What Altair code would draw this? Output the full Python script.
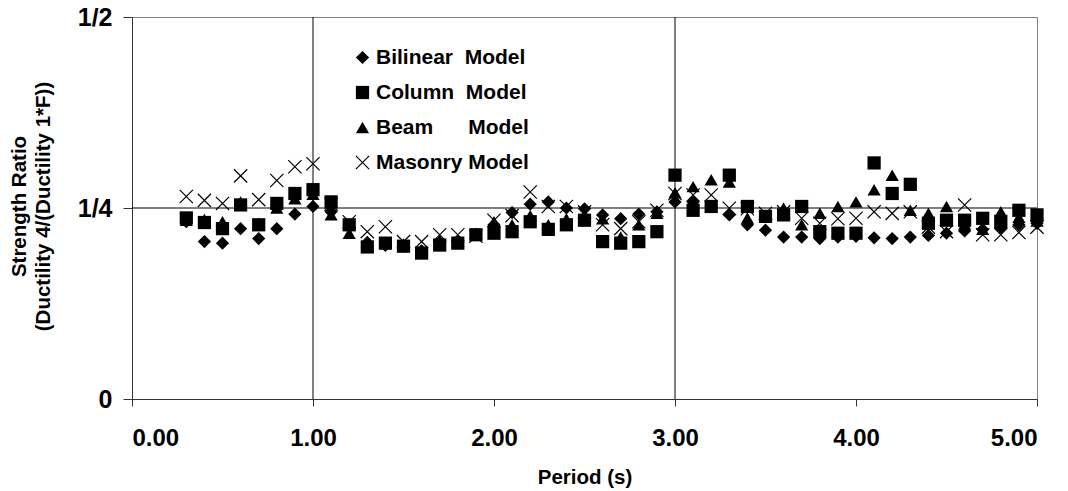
import altair as alt
import pandas as pd

# ---- data ----
periods = [0.3, 0.4, 0.5, 0.6, 0.7, 0.8, 0.9, 1.0, 1.1, 1.2, 1.3, 1.4, 1.5, 1.6, 1.7, 1.8,
           1.9, 2.0, 2.1, 2.2, 2.3, 2.4, 2.5, 2.6, 2.7, 2.8, 2.9, 3.0, 3.1, 3.2, 3.3, 3.4,
           3.5, 3.6, 3.7, 3.8, 3.9, 4.0, 4.1, 4.2, 4.3, 4.4, 4.5, 4.6, 4.7, 4.8, 4.9, 5.0]

bilinear = [0.232, 0.206, 0.204, 0.223, 0.210, 0.223, 0.242, 0.252, 0.245, 0.225, 0.205, 0.201,
            0.200, 0.194, 0.205, 0.205, 0.215, 0.228, 0.244, 0.255, 0.258, 0.250, 0.249, 0.241,
            0.236, 0.242, 0.245, 0.258, 0.258, 0.252, 0.241, 0.228, 0.221, 0.212, 0.212, 0.210,
            0.212, 0.213, 0.211, 0.210, 0.212, 0.214, 0.217, 0.220, 0.222, 0.224, 0.228, 0.230]

column = [0.237, 0.231, 0.223, 0.254, 0.228, 0.256, 0.269, 0.274, 0.258, 0.228, 0.199, 0.204,
          0.200, 0.191, 0.2015, 0.204, 0.215, 0.217, 0.219, 0.232, 0.222, 0.228, 0.234, 0.206,
          0.204, 0.206, 0.219, 0.293, 0.247, 0.252, 0.293, 0.252, 0.239, 0.241, 0.252, 0.219,
          0.217, 0.217, 0.309, 0.269, 0.281, 0.230, 0.234, 0.234, 0.2365, 0.2325, 0.247, 0.241]

beam = [0.234, 0.235, 0.232, 0.258, 0.230, 0.250, 0.262, 0.268, 0.241, 0.217, 0.206, 0.205,
        0.203, 0.195, 0.207, 0.207, 0.217, 0.232, 0.228, 0.240, 0.228, 0.236, 0.238, 0.236,
        0.212, 0.228, 0.243, 0.270, 0.278, 0.287, 0.284, 0.237, 0.240, 0.250, 0.228, 0.243,
        0.252, 0.258, 0.274, 0.293, 0.247, 0.243, 0.252, 0.229, 0.222, 0.245, 0.238, 0.233]

masonry = [0.265, 0.260, 0.256, 0.292, 0.261, 0.286, 0.304, 0.308, 0.255, 0.232, 0.219, 0.2255,
           0.206, 0.206, 0.215, 0.215, 0.213, 0.234, 0.240, 0.271, 0.252, 0.252, 0.245, 0.228,
           0.223, 0.232, 0.247, 0.269, 0.267, 0.267, 0.2496, 0.249, 0.243, 0.245, 0.2365, 0.230,
           0.236, 0.2365, 0.245, 0.243, 0.245, 0.225, 0.219, 0.254, 0.215, 0.215, 0.218, 0.225]

NB = "\u00a0"
series_names = [
    "Bilinear" + NB * 2 + "Model",
    "Column" + NB * 2 + "Model",
    "Beam" + NB * 6 + "Model",
    "Masonry" + NB + "Model",
]
series_values = [bilinear, column, beam, masonry]

x_ticks = [0, 1, 2, 3, 4, 5]
y_ticks = [0, 0.25, 0.5]
y_tick_labels = ["0", "1/4", "1/2"]
v_grid = [1, 3]
h_grid = [0.25]

rows = []
for name, vals in zip(series_names, series_values):
    for p, v in zip(periods, vals):
        rows.append({"period": p, "ratio": v, "series": name})
df = pd.DataFrame(rows)

FONT = "Liberation Sans"
label_map = "{" + ", ".join(f"'{v}': '{l}'" for v, l in zip(y_ticks, y_tick_labels)) + "}"

xscale = alt.Scale(domain=[0, 5], nice=False)
yscale = alt.Scale(domain=[0, 0.5], nice=False)

vgrid = alt.Chart(pd.DataFrame({"x": v_grid})).mark_rule(color="black", strokeWidth=1).encode(
    x=alt.X("x:Q", scale=xscale)
)
hgrid = alt.Chart(pd.DataFrame({"y": h_grid})).mark_rule(color="black", strokeWidth=1).encode(
    y=alt.Y("y:Q", scale=yscale)
)

leg = alt.Legend(title=None, orient="none", legendX=220, legendY=30)

points = alt.Chart(df).mark_point(opacity=1, size=175, strokeWidth=1.2).encode(
    x=alt.X(
        "period:Q",
        scale=xscale,
        axis=alt.Axis(
            values=x_ticks, format=".2f", title="Period (s)", grid=False,
            tickSize=7, labelPadding=39, labelBaseline="alphabetic",
            labelFontSize=24, titleFontSize=20.5, titleY=84, titleBaseline="alphabetic",
        ),
    ),
    y=alt.Y(
        "ratio:Q",
        scale=yscale,
        axis=alt.Axis(
            values=y_ticks, labelExpr=f"{label_map}[datum.value] || datum.label",
            title=["Strength Ratio", "(Ductility 4/(Ductility 1*F))"], grid=False,
            tickSize=9, labelPadding=11, labelFontSize=25,
            titleFontSize=20.5, titleLineHeight=24, titleX=-113, titleY=189,
            titleAlign="center", titleBaseline="middle", titleAngle=-90,
        ),
    ),
    shape=alt.Shape(
        "series:N",
        scale=alt.Scale(domain=series_names,
                        range=["diamond", "square", "triangle-up", "M-1,-1L1,1M-1,1L1,-1"]),
        legend=leg,
    ),
    fill=alt.Fill(
        "series:N",
        scale=alt.Scale(domain=series_names, range=["black", "black", "black", "transparent"]),
        legend=leg,
    ),
    stroke=alt.Stroke(
        "series:N",
        scale=alt.Scale(domain=series_names,
                        range=["transparent", "transparent", "transparent", "black"]),
        legend=leg,
    ),
    order=alt.Order("order:Q"),
).transform_calculate(
    order=f"indexof({series_names!r}, datum.series)"
)

chart = (
    alt.layer(vgrid, hgrid, points)
    .properties(
        width=905, height=382,
        autosize=alt.AutoSizeParams(type="none"),
        padding={"left": 124, "top": 9, "right": 23, "bottom": 90},
    )
    .configure(font=FONT)
    .configure_view(stroke="#808080", strokeWidth=1)
    .configure_axis(
        labelFont=FONT, titleFont=FONT, labelFontWeight="bold", titleFontWeight="bold",
        labelColor="black", titleColor="black", domainColor="#333333", tickColor="#333333",
        domainWidth=1, tickWidth=1,
    )
    .configure_legend(
        labelFont=FONT, labelFontWeight="bold", labelFontSize=21, labelColor="black",
        symbolSize=175, symbolStrokeWidth=1.2, labelOffset=3, rowPadding=13,
        labelLimit=400, padding=0, symbolType="circle",
    )
)

chart.save("out.html", embed_options={"renderer": "svg", "actions": False})
